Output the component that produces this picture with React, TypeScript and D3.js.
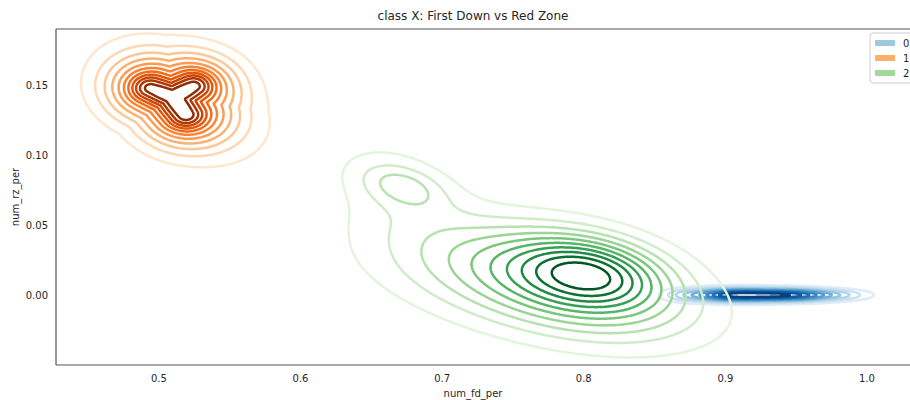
import React, { useMemo } from 'react';
import * as d3 from 'd3';

// axis ticks
const xTicks = [0.5, 0.6, 0.7, 0.8, 0.9, 1.0];
const yTicks = [0.0, 0.05, 0.1, 0.15];
const classNames = ['0', '1', '2'];
const legendColors = ['#9ecae1', '#fdae6b', '#a1d99b'];

// density read off the picture as gaussian bumps:
// [center x, center y, spread along axis, spread across, angle (deg), height]
const class0Bumps = [
  [0.905, 0.0, 0.020, 0.0033, 0, 1.0],
  [0.945, 0.0, 0.020, 0.0031, 0, 0.9],
  [0.980, 0.0, 0.018, 0.0030, 0, 0.25],
  [0.870, 0.0, 0.012, 0.0036, 0, 0.2],
];
const class1Bumps = [
  [0.516, 0.139, 0.040, 0.024, -25, 0.3],
];
const class2Bumps = [
  [0.809, 0.018, 0.034, 0.016, -10, 0.35],
  [0.792, 0.012, 0.052, 0.022, -13, 0.35],
  [0.765, 0.008, 0.075, 0.025, -12, 0.3],
  [0.672, 0.078, 0.021, 0.010, -15, 0.19],
  [0.672, 0.070, 0.042, 0.026, -35, 0.1],
];
// class 1 also peaks along a three-armed ridge: [x1, y1, x2, y2]
const class1Ridge = [
  [0.5099, 0.1414, 0.4935, 0.1478],
  [0.5099, 0.1414, 0.525, 0.1497],
  [0.5099, 0.1414, 0.5188, 0.1285],
];
// fall-off away from the ridge: [spread, height]
const class1Falloff = [
  [0.009, 0.3],
  [0.022, 0.45],
];
const class1Squash = 1.4; // vertical distances count more

const W = 910;
const H = 400;
const plotLeft = 56;
const plotRight = 926;
const plotTop = 29;
const plotBottom = 365;

const x = d3.scaleLinear().domain([0.4273, 1.0417]).range([plotLeft, plotRight]);
const y = d3.scaleLinear().domain([-0.05, 0.19]).range([plotBottom, plotTop]);

function bumpDensity(bumps: number[][]) {
  return (px: number, py: number) => {
    let s = 0;
    for (const [cx, cy, sa, sb, ang, w] of bumps) {
      const a = (ang * Math.PI) / 180;
      const dx = px - cx;
      const dy = py - cy;
      const u = dx * Math.cos(a) + dy * Math.sin(a);
      const v = -dx * Math.sin(a) + dy * Math.cos(a);
      s += w * Math.exp(-0.5 * ((u * u) / (sa * sa) + (v * v) / (sb * sb)));
    }
    return s;
  };
}

function ridgeDensity(segs: number[][], falloff: number[][], squash: number) {
  return (px: number, py: number) => {
    let best = Infinity;
    for (const [x1, y1, x2, y2] of segs) {
      const ex = x2 - x1;
      const ey = (y2 - y1) * squash;
      const qx = px - x1;
      const qy = (py - y1) * squash;
      const t = Math.max(0, Math.min(1, (qx * ex + qy * ey) / (ex * ex + ey * ey)));
      const ddx = qx - t * ex;
      const ddy = qy - t * ey;
      best = Math.min(best, ddx * ddx + ddy * ddy);
    }
    let s = 0;
    for (const [sd, w] of falloff) s += w * Math.exp((-0.5 * best) / (sd * sd));
    return s;
  };
}

function contourSet(f: (a: number, b: number) => number, interp: (t: number) => string, nLevels = 10) {
  const n = Math.ceil(plotRight - plotLeft);
  const m = Math.ceil(plotBottom - plotTop);
  const values = new Float64Array(n * m);
  let max = 0;
  for (let j = 0; j < m; j++) {
    const dy = y.invert(plotTop + j + 0.5);
    for (let i = 0; i < n; i++) {
      const v = f(x.invert(plotLeft + i + 0.5), dy);
      values[i + j * n] = v;
      if (v > max) max = v;
    }
  }
  const levels = d3.range(1, nLevels + 1).map((k) => (max * k) / (nLevels + 1));
  const contours = d3.contours().size([n, m]).thresholds(levels)(values as any);
  return contours.map((c, k) => ({
    d: d3.geoPath()(c as any) || '',
    color: interp((k + 1) / (nLevels + 1) + 0.03),
  }));
}

export default function App() {
  const layers = useMemo(() => {
    const ridge = ridgeDensity(class1Ridge, class1Falloff, class1Squash);
    const blob = bumpDensity(class1Bumps);
    return [
      contourSet(bumpDensity(class0Bumps), d3.interpolateBlues, 10),
      contourSet((a, b) => ridge(a, b) + blob(a, b), d3.interpolateOranges, 11),
      contourSet(bumpDensity(class2Bumps), d3.interpolateGreens, 10),
    ];
  }, []);
  const font = 'DejaVu Sans, sans-serif';
  const textColor = '#262626';

  return (
    <svg width={W} height={H} style={{ position: 'absolute', left: 0, top: 0, background: '#fff' }} fontFamily={font}>
      <defs>
        <clipPath id="plot">
          <rect x={plotLeft} y={plotTop} width={plotRight - plotLeft} height={plotBottom - plotTop} />
        </clipPath>
      </defs>
      <g clipPath="url(#plot)">
        {layers.map((layer, li) => (
          <g key={li} transform={`translate(${plotLeft},${plotTop})`}>
            {layer.map((c, k) => (
              <path key={k} d={c.d} fill="none" stroke={c.color} strokeWidth={2.5} strokeLinejoin="round" />
            ))}
          </g>
        ))}
      </g>
      {/* spines */}
      <line x1={plotLeft} x2={plotLeft} y1={plotTop} y2={plotBottom} stroke="#555" strokeWidth={1.2} />
      <line x1={plotLeft} x2={plotRight} y1={plotBottom} y2={plotBottom} stroke="#555" strokeWidth={1.2} />
      <line x1={plotLeft} x2={plotRight} y1={plotTop} y2={plotTop} stroke="#555" strokeWidth={1.2} />
      <line x1={plotRight} x2={plotRight} y1={plotTop} y2={plotBottom} stroke="#555" strokeWidth={1.2} />
      {/* ticks */}
      {xTicks.map((t) => (
        <text key={t} x={x(t)} y={382} fontSize={10} textAnchor="middle" fill={textColor}>
          {t.toFixed(1)}
        </text>
      ))}
      {yTicks.map((t) => (
        <text key={t} x={48} y={y(t) + 3.5} fontSize={10} textAnchor="end" fill={textColor}>
          {t.toFixed(2)}
        </text>
      ))}
      <text x={473} y={20} fontSize={12} textAnchor="middle" fill={textColor}>
        class X: First Down vs Red Zone
      </text>
      <text x={473} y={397} fontSize={10} textAnchor="middle" fill={textColor}>
        num_fd_per
      </text>
      <text transform={`translate(19,197) rotate(-90)`} fontSize={10} textAnchor="middle" fill={textColor}>
        num_rz_per
      </text>
      {/* legend */}
      <g transform="translate(870,33)">
        <rect x={0} y={0} width={60} height={50} rx={3} fill="#fff" fillOpacity={0.8} stroke="#ccc" strokeWidth={1} />
        {classNames.map((c, i) => (
          <g key={c} transform={`translate(5,${10 + i * 15})`}>
            <rect x={0} y={-3} width={20} height={6} fill={legendColors[i]} />
            <text x={28} y={3.5} fontSize={10} fill={textColor}>
              {c}
            </text>
          </g>
        ))}
      </g>
    </svg>
  );
}
